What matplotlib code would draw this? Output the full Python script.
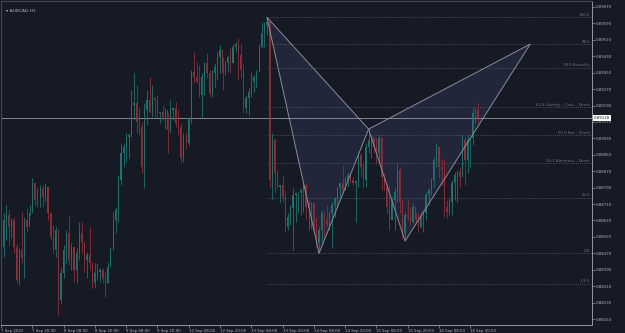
import matplotlib
matplotlib.use("Agg")
import matplotlib.pyplot as plt
import matplotlib.transforms as mtransforms
from matplotlib.patches import Polygon

# AUDCAD H1 candles, 7 Sep 08:00 .. 16 Sep 23:00 (184 bars)
first_open = 0.88551
highs = [
    0.88600, 0.88665, 0.88705, 0.88681, 0.88640, 0.88648, 0.88519, 0.88494, 0.88673, 0.88648,
    0.88689, 0.88705, 0.88835, 0.88819, 0.88786, 0.88803, 0.88803, 0.88811, 0.88786, 0.88673,
    0.88608, 0.88600, 0.88584, 0.88397, 0.88511, 0.88584, 0.88657, 0.88519, 0.88437, 0.88494,
    0.88624, 0.88624, 0.88527, 0.88478, 0.88600, 0.88429, 0.88421, 0.88421, 0.88397, 0.88397,
    0.88381, 0.88429, 0.88502, 0.88673, 0.88697, 0.88851, 0.89006, 0.89006, 0.89054, 0.89054,
    0.89265, 0.89346, 0.89290, 0.89176, 0.89111, 0.89200, 0.89265, 0.89330, 0.89290, 0.89233,
    0.89241, 0.89160, 0.89192, 0.89176, 0.89152, 0.89217, 0.89184, 0.89208, 0.89168, 0.89103,
    0.89054, 0.89054, 0.89135, 0.89362, 0.89452, 0.89403, 0.89387, 0.89346, 0.89403, 0.89444,
    0.89362, 0.89362, 0.89395, 0.89452, 0.89484, 0.89427, 0.89411, 0.89436, 0.89468, 0.89492,
    0.89501, 0.89517, 0.89492, 0.89395, 0.89241, 0.89273, 0.89354, 0.89338, 0.89362, 0.89492,
    0.89598, 0.89598, 0.89620, 0.89610, 0.89054, 0.89030, 0.88876, 0.88803, 0.88851, 0.88778,
    0.88665, 0.88705, 0.88786, 0.88770, 0.88770, 0.88786, 0.88819, 0.88811, 0.88730, 0.88721,
    0.88713, 0.88648, 0.88600, 0.88681, 0.88673, 0.88705, 0.88673, 0.88721, 0.88746, 0.88795,
    0.88819, 0.88900, 0.88843, 0.88868, 0.88859, 0.88843, 0.88827, 0.88965, 0.88957, 0.88908,
    0.89006, 0.89075, 0.89046, 0.89038, 0.89030, 0.89046, 0.89038, 0.88859, 0.88811, 0.88803,
    0.88746, 0.88786, 0.88908, 0.88884, 0.88730, 0.88673, 0.88730, 0.88697, 0.88713, 0.88665,
    0.88665, 0.88673, 0.88681, 0.88770, 0.88786, 0.88835, 0.88941, 0.89006, 0.88981, 0.88933,
    0.88924, 0.88730, 0.88738, 0.88827, 0.88868, 0.88876, 0.88892, 0.89046, 0.89038, 0.89046,
    0.89038, 0.89176, 0.89184, 0.89200,
]
lows = [
    0.88454, 0.88454, 0.88535, 0.88511, 0.88543, 0.88470, 0.88324, 0.88316, 0.88421, 0.88348,
    0.88575, 0.88657, 0.88697, 0.88705, 0.88697, 0.88697, 0.88697, 0.88721, 0.88632, 0.88535,
    0.88470, 0.88454, 0.88170, 0.88226, 0.88348, 0.88421, 0.88413, 0.88389, 0.88332, 0.88324,
    0.88437, 0.88470, 0.88381, 0.88348, 0.88389, 0.88300, 0.88300, 0.88340, 0.88332, 0.88324,
    0.88259, 0.88324, 0.88421, 0.88486, 0.88567, 0.88624, 0.88803, 0.88892, 0.88916, 0.88933,
    0.89038, 0.89119, 0.89054, 0.89046, 0.88859, 0.88786, 0.89095, 0.89152, 0.89135, 0.89135,
    0.89135, 0.89103, 0.89119, 0.89078, 0.88957, 0.89054, 0.89119, 0.89087, 0.89046, 0.88908,
    0.88916, 0.88981, 0.88997, 0.89103, 0.89298, 0.89298, 0.89233, 0.89135, 0.89241, 0.89322,
    0.89233, 0.89233, 0.89281, 0.89314, 0.89346, 0.89265, 0.89338, 0.89354, 0.89346, 0.89395,
    0.89452, 0.89314, 0.89322, 0.89152, 0.89152, 0.89143, 0.89233, 0.89257, 0.89281, 0.89371,
    0.89468, 0.89476, 0.89533, 0.88795, 0.88730, 0.88762, 0.88786, 0.88713, 0.88721, 0.88575,
    0.88584, 0.88608, 0.88486, 0.88624, 0.88665, 0.88657, 0.88673, 0.88632, 0.88584, 0.88592,
    0.88567, 0.88502, 0.88470, 0.88519, 0.88551, 0.88600, 0.88584, 0.88494, 0.88648, 0.88697,
    0.88730, 0.88762, 0.88778, 0.88795, 0.88811, 0.88803, 0.88624, 0.88795, 0.88843, 0.88795,
    0.88795, 0.88957, 0.88933, 0.88957, 0.88908, 0.88916, 0.88778, 0.88778, 0.88665, 0.88584,
    0.88673, 0.88584, 0.88721, 0.88665, 0.88540, 0.88530, 0.88632, 0.88608, 0.88616, 0.88624,
    0.88575, 0.88592, 0.88575, 0.88632, 0.88705, 0.88754, 0.88795, 0.88892, 0.88835, 0.88803,
    0.88648, 0.88640, 0.88657, 0.88657, 0.88730, 0.88721, 0.88795, 0.88859, 0.88803, 0.88859,
    0.88892, 0.88997, 0.89103, 0.89103,
]
closes = [
    0.88502, 0.88632, 0.88657, 0.88600, 0.88632, 0.88502, 0.88340, 0.88486, 0.88446, 0.88632,
    0.88600, 0.88665, 0.88811, 0.88730, 0.88746, 0.88786, 0.88746, 0.88795, 0.88665, 0.88551,
    0.88486, 0.88584, 0.88243, 0.88372, 0.88486, 0.88567, 0.88437, 0.88502, 0.88389, 0.88470,
    0.88567, 0.88527, 0.88437, 0.88462, 0.88421, 0.88324, 0.88372, 0.88381, 0.88389, 0.88348,
    0.88324, 0.88405, 0.88486, 0.88632, 0.88681, 0.88827, 0.88957, 0.88989, 0.89038, 0.89046,
    0.89192, 0.89200, 0.89111, 0.89087, 0.88892, 0.89168, 0.89217, 0.89160, 0.89225, 0.89217,
    0.89152, 0.89157, 0.89135, 0.89168, 0.89070, 0.89168, 0.89176, 0.89103, 0.89087, 0.88933,
    0.89038, 0.89006, 0.89127, 0.89354, 0.89330, 0.89306, 0.89241, 0.89330, 0.89395, 0.89346,
    0.89249, 0.89346, 0.89379, 0.89427, 0.89460, 0.89346, 0.89395, 0.89427, 0.89395, 0.89476,
    0.89492, 0.89436, 0.89362, 0.89176, 0.89225, 0.89257, 0.89306, 0.89330, 0.89354, 0.89476,
    0.89541, 0.89582, 0.89598, 0.88827, 0.89022, 0.88859, 0.88795, 0.88801, 0.88746, 0.88600,
    0.88648, 0.88689, 0.88754, 0.88762, 0.88766, 0.88778, 0.88803, 0.88697, 0.88705, 0.88713,
    0.88584, 0.88519, 0.88584, 0.88665, 0.88632, 0.88608, 0.88665, 0.88705, 0.88738, 0.88786,
    0.88811, 0.88778, 0.88827, 0.88851, 0.88827, 0.88811, 0.88824, 0.88949, 0.88892, 0.88827,
    0.88989, 0.89022, 0.89038, 0.88989, 0.88957, 0.89030, 0.88843, 0.88795, 0.88697, 0.88632,
    0.88730, 0.88770, 0.88876, 0.88721, 0.88567, 0.88657, 0.88648, 0.88624, 0.88697, 0.88632,
    0.88600, 0.88648, 0.88665, 0.88754, 0.88778, 0.88827, 0.88924, 0.88989, 0.88892, 0.88876,
    0.88697, 0.88673, 0.88721, 0.88811, 0.88851, 0.88868, 0.88843, 0.89022, 0.88924, 0.89022,
    0.89030, 0.89152, 0.89168, 0.89128,
]

# time axis labels (every 12 bars)
tick_bars = [0, 12, 24, 36, 48, 60, 72, 84, 96, 108, 120, 132, 144, 156, 168, 180]
tick_labels = ["7 Sep 2022", "7 Sep 20:00", "8 Sep 08:00", "8 Sep 20:00", "9 Sep 08:00",
               "9 Sep 20:00", "12 Sep 08:00", "12 Sep 20:00", "13 Sep 08:00", "13 Sep 20:00",
               "14 Sep 08:00", "14 Sep 20:00", "15 Sep 08:00", "15 Sep 20:00", "16 Sep 08:00",
               "16 Sep 20:00"]
price_ticks = [0.88150, 0.88230, 0.88310, 0.88390, 0.88470, 0.88550, 0.88630, 0.88710,
               0.88790, 0.88870, 0.88950, 0.89030, 0.89110, 0.89190, 0.89270, 0.89350,
               0.89430, 0.89510, 0.89590, 0.89670]

# XABCD butterfly pattern
pattern_bars = [102, 122, 141, 155, 203]
pattern_prices = [0.89620, 0.88470, 0.89075, 0.88530, 0.89489]

# fib retracement of XA
fib_levels = [1.0, 0.886, 0.786, 0.618, 0.5, 0.382, 0.236, 0.0, -0.13]
fib_names = ["100.0", "88.6", "78.6 Butterfly", "61.8 Gartley \u2013 Crab \u2013 Shark",
             "50.0 Bat \u2013 Shark", "38.2 Alternate \u2013 Shark", "23.6", "0.0", "-13.0"]

BG = "#161a25"
UP = "#20726c"
DOWN = "#8c2f39"
TXT = "#b2b5be"

fig = plt.figure(figsize=(6.25, 3.33), dpi=100, facecolor=BG)
ax = fig.add_axes([1 / 625, 8 / 333, 591 / 625, 324 / 333])
ax.set_facecolor(BG)

opens = [first_open] + closes[:-1]
xs = list(range(len(closes)))
cols = [UP if c >= o else DOWN for o, c in zip(opens, closes)]

# pattern triangles
X, A, B, C, D = zip(pattern_bars, pattern_prices)
for tri in ([X, A, B], [B, C, D]):
    ax.add_patch(Polygon(tri, closed=True, fc="#21263a", ec="none", zorder=1))
    ax.add_patch(Polygon(tri, closed=True, fc="none", ec="#8a8d96", lw=0.7, zorder=4))

ax.vlines(xs, lows, highs, colors=cols, lw=0.6, zorder=2)
ax.bar(xs, [c - o for o, c in zip(opens, closes)], bottom=opens, width=0.45,
       color=cols, lw=0, zorder=3)

# fib levels
x_end = 226.7
xa = pattern_prices[0] - pattern_prices[1]
for lv, name in zip(fib_levels, fib_names):
    p = pattern_prices[1] + lv * xa
    ax.plot([pattern_bars[0], x_end], [p, p], color="#5a5e6a", lw=0.6, ls=(0, (1, 1.5)), zorder=1.5)
    ax.text(x_end - 0.8, p + 0.00003, name, color="#6f727c", fontsize=2.8, ha="right", va="bottom")

# current price line
last = closes[-1]
ax.axhline(last, color="#9598a1", lw=0.6, zorder=1.6)
trans = mtransforms.blended_transform_factory(ax.transAxes, ax.transData)
ax.text(1.003, last, f"{last:.5f}", transform=trans, fontsize=2.8, color="#131722",
        va="center", ha="left", bbox=dict(fc="white", ec="none", pad=0.6), zorder=10, clip_on=False)

ax.set_xlim(0.3, 226.7)
ax.set_ylim(0.88121, 0.89699)

ax.yaxis.tick_right()
ax.set_yticks(price_ticks)
ax.set_yticklabels([f"{p:.5f}" for p in price_ticks])
ax.set_xticks(tick_bars)
ax.set_xticklabels(tick_labels, ha="left")
ax.tick_params(axis="both", colors="#9598a1", labelcolor=TXT, labelsize=2.8,
               length=2, width=0.5, pad=1)

for side in ["top", "left"]:
    ax.spines[side].set_color("#434651")
    ax.spines[side].set_linewidth(0.8)
for side in ["right", "bottom"]:
    ax.spines[side].set_color("#9598a1")
    ax.spines[side].set_linewidth(0.7)

fig.text(6 / 625, 1 - 11 / 333, "\u25be AUDCAD,H1", color=TXT, fontsize=3.2, ha="left", va="center")

fig.savefig("out.png", dpi=100, facecolor=BG)
